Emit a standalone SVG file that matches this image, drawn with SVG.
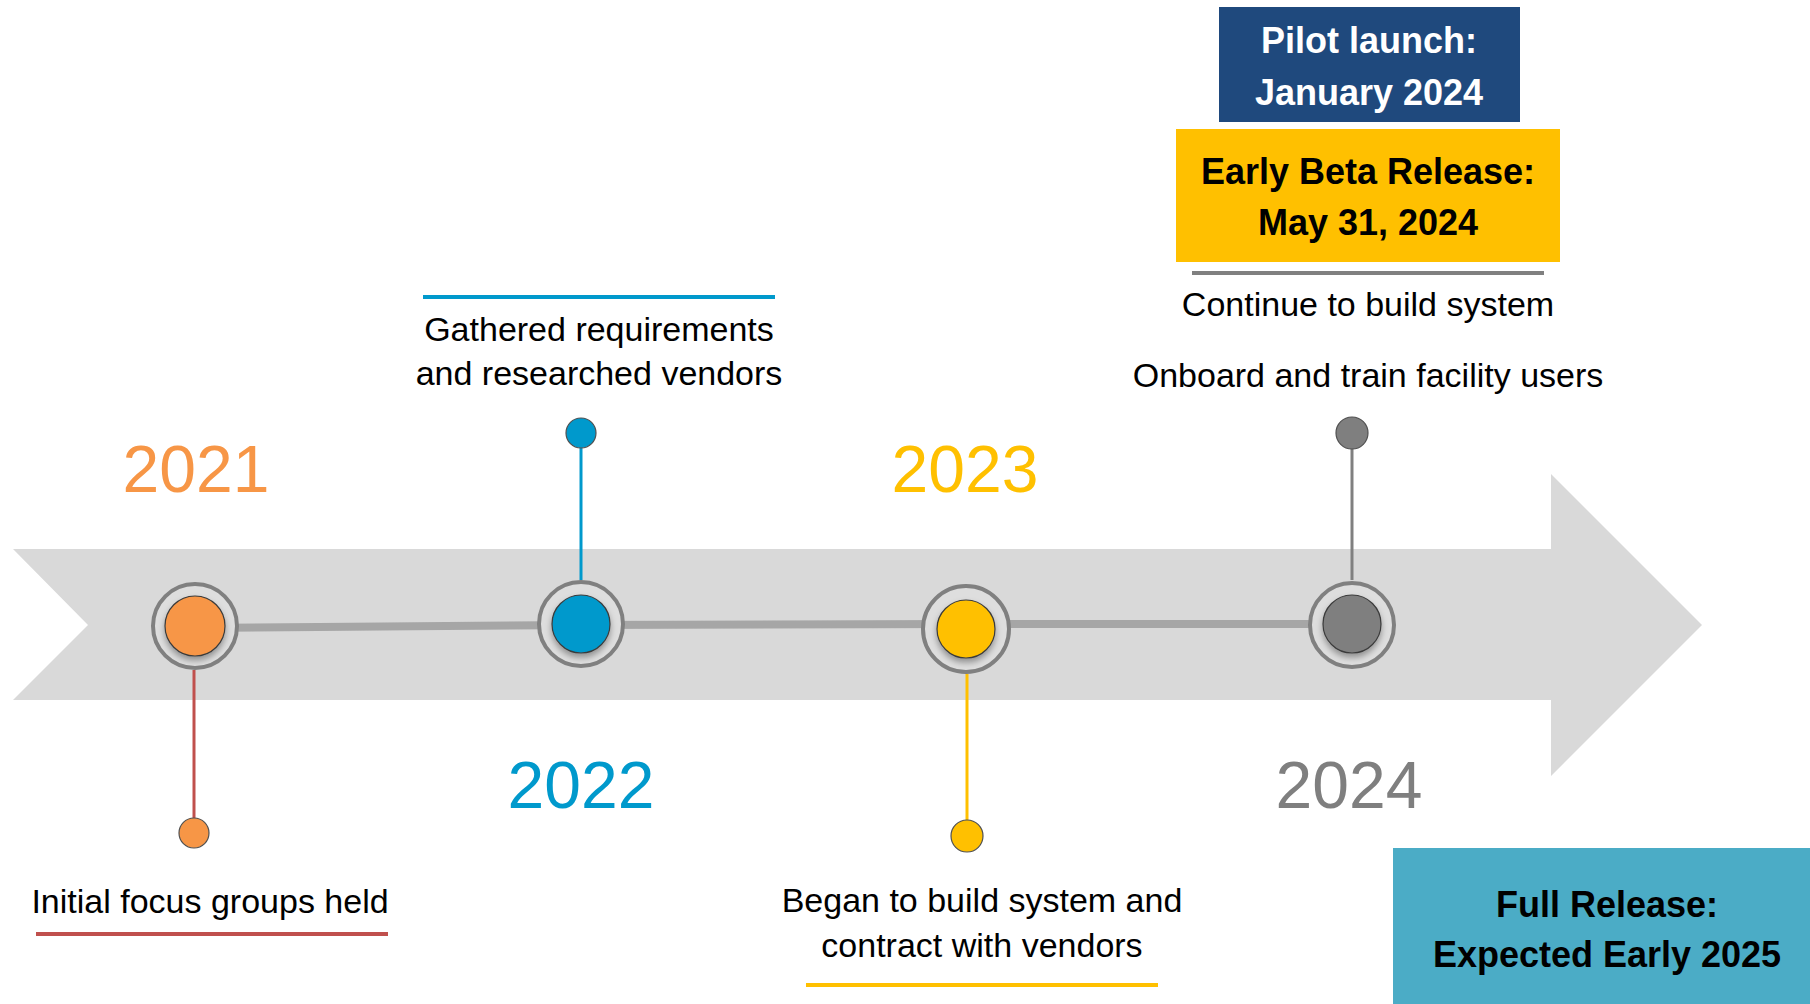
<svg xmlns="http://www.w3.org/2000/svg" width="1810" height="1004" viewBox="0 0 1810 1004">
<defs>
<filter id="sh" x="-50%" y="-50%" width="200%" height="200%">
<feDropShadow dx="0" dy="4" stdDeviation="3" flood-color="#000" flood-opacity="0.35"/>
</filter>
</defs>
<style>
.txt{font-family:"Liberation Sans",Arial,sans-serif;font-size:34px;fill:#000;text-anchor:middle}
.bold{font-family:"Liberation Sans",Arial,sans-serif;font-size:36px;font-weight:bold;text-anchor:middle}
.year{font-family:"Liberation Sans",Arial,sans-serif;font-size:66px;text-anchor:middle}
.ring{fill:#dedede;stroke:#808080;stroke-width:4}
.core{stroke:#3a3a3a;stroke-width:1.2;filter:url(#sh)}
.dot{stroke:#505050;stroke-width:1.2}
.rule{stroke-width:4}
</style>
<rect width="1810" height="1004" fill="#fff"/>
<polygon id="band" points="13,549 1551,549 1551,474 1702,625 1551,776 1551,700 13,700 88,625" fill="#d9d9d9"/>
<g id="connectors" fill="none">
<polyline points="195,628 581,625 966,624 1352,624" stroke="#a6a6a6" stroke-width="8"/>
<line x1="194" y1="670" x2="194" y2="818" stroke="#c0504d" stroke-width="3"/>
<line x1="581" y1="580" x2="581" y2="447" stroke="#0099cc" stroke-width="3"/>
<line x1="967" y1="674" x2="967" y2="820" stroke="#ffc000" stroke-width="3"/>
<line x1="1352" y1="580" x2="1352" y2="448" stroke="#808080" stroke-width="3"/>
</g>
<g id="node-2021">
<circle class="ring" cx="195" cy="626" r="42"/>
<circle class="core" cx="195" cy="626" r="30" fill="#f79646"/>
<circle class="dot" cx="194" cy="833" r="15" fill="#f79646"/>
<text class="year" x="196" y="492" fill="#f79646">2021</text>
<text class="txt" x="210" y="913">Initial focus groups held</text>
<line class="rule" x1="36" y1="934" x2="388" y2="934" stroke="#c0504d"/>
</g>
<g id="node-2022">
<circle class="ring" cx="581" cy="624" r="42"/>
<circle class="core" cx="581" cy="624" r="29" fill="#0099cc"/>
<circle class="dot" cx="581" cy="433" r="15" fill="#0099cc"/>
<text class="year" x="581" y="808" fill="#0099cc">2022</text>
<line class="rule" x1="423" y1="297" x2="775" y2="297" stroke="#0099cc"/>
<text class="txt" x="599" y="341">Gathered requirements</text>
<text class="txt" x="599" y="385">and researched vendors</text>
</g>
<g id="node-2023">
<circle class="ring" cx="966" cy="629" r="43"/>
<circle class="core" cx="966" cy="629" r="29" fill="#ffc000"/>
<circle class="dot" cx="967" cy="836" r="16" fill="#ffc000"/>
<text class="year" x="965" y="492" fill="#ffc000">2023</text>
<text class="txt" x="982" y="912">Began to build system and</text>
<text class="txt" x="982" y="957">contract with vendors</text>
<line class="rule" x1="806" y1="985" x2="1158" y2="985" stroke="#ffc000"/>
</g>
<g id="node-2024">
<circle class="ring" cx="1352" cy="625" r="42"/>
<circle class="core" cx="1352" cy="624" r="29" fill="#7f7f7f"/>
<circle class="dot" cx="1352" cy="433" r="16" fill="#7f7f7f"/>
<text class="year" x="1349" y="808" fill="#7f7f7f">2024</text>
<text class="txt" x="1368" y="316">Continue to build system</text>
<text class="txt" x="1368" y="387">Onboard and train facility users</text>
<line class="rule" x1="1192" y1="273" x2="1544" y2="273" stroke="#808080"/>
</g>
<g id="pilot">
<rect x="1219" y="7" width="301" height="115" fill="#1f497d"/>
<text class="bold" x="1369" y="53" fill="#fff">Pilot launch:</text>
<text class="bold" x="1369" y="105" fill="#fff">January 2024</text>
</g>
<g id="beta">
<rect x="1176" y="129" width="384" height="133" fill="#ffc000"/>
<text class="bold" x="1368" y="184" fill="#000">Early Beta Release:</text>
<text class="bold" x="1368" y="235" fill="#000">May 31, 2024</text>
</g>
<g id="full">
<rect x="1393" y="848" width="417" height="156" fill="#4bacc6"/>
<text class="bold" x="1607" y="917" fill="#000">Full Release:</text>
<text class="bold" x="1607" y="967" fill="#000">Expected Early 2025</text>
</g>
</svg>
